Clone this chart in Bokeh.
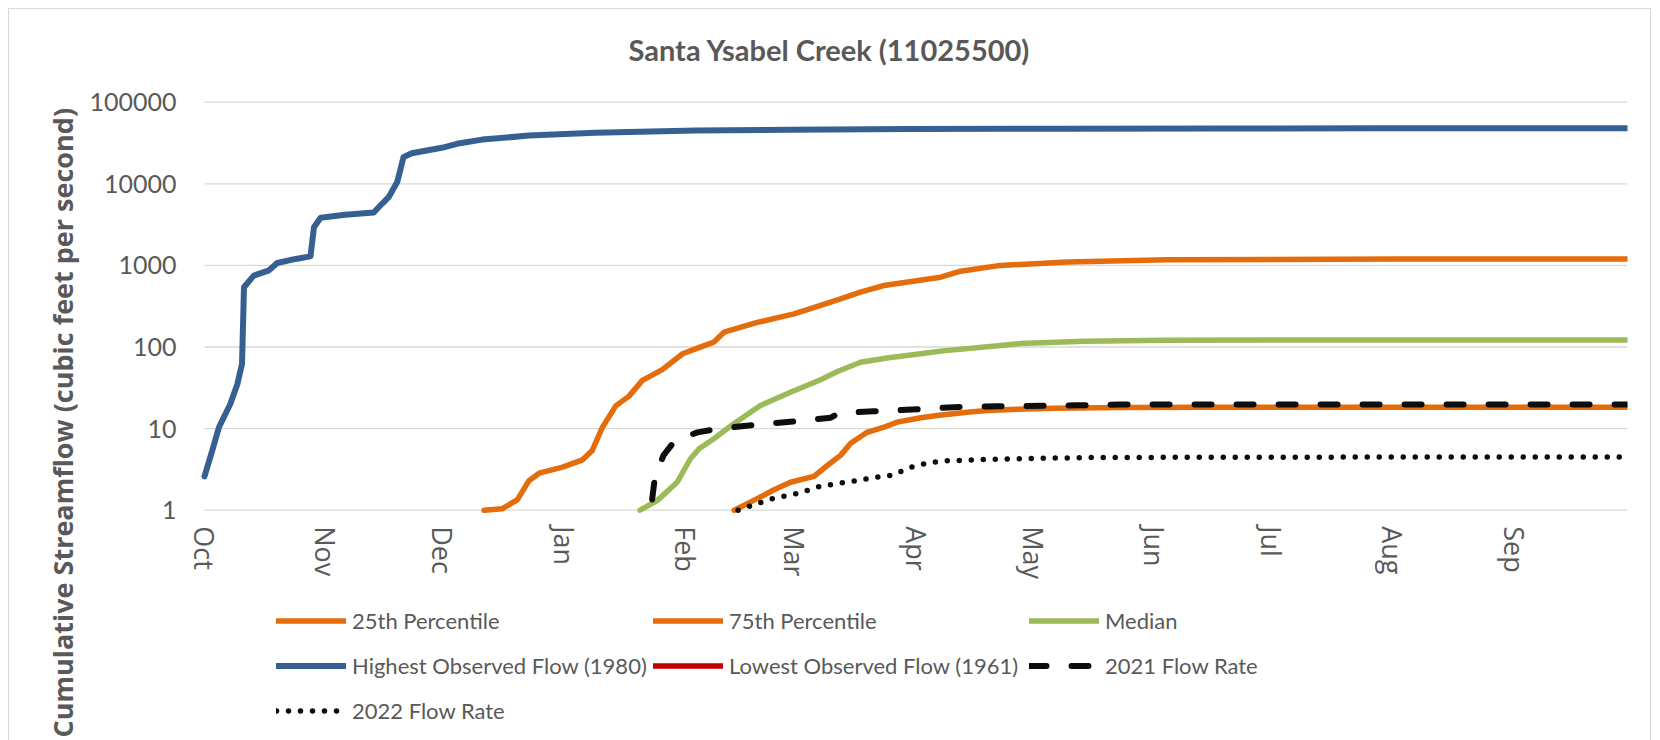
import math
from bokeh.plotting import figure
from bokeh.models import Range1d, FixedTicker, Legend, LegendItem, NumeralTickFormatter, Title, Label
from bokeh.core.properties import value
from bokeh.embed import file_html
from bokeh.resources import INLINE

# ---------------- data ----------------
month_names = ["Oct", "Nov", "Dec", "Jan", "Feb", "Mar", "Apr", "May", "Jun", "Jul", "Aug", "Sep"]
month_start_days = [0, 31, 61, 92, 123, 151, 182, 212, 243, 273, 304, 335]
y_ticks = [1, 10, 100, 1000, 10000, 100000]
day_first, day_last = 0, 364

p25_days = [135.5, 140.5, 145.7, 149.9, 155.9, 159.3, 162.7, 165.3, 169.5, 173.8, 177.2, 183.2,
            187.4, 195.1, 200.2, 207.9, 217.3, 234, 260, 364]
p25_vals = [1.0, 1.32, 1.78, 2.2, 2.6, 3.53, 4.7, 6.6, 9.0, 10.4, 12.0, 13.6,
            14.5, 15.9, 16.7, 17.3, 17.8, 18.2, 18.3, 18.3]

p75_days = [71.5, 76.1, 80, 83, 85.6, 91.6, 96.7, 99.2, 101.8, 105.2, 108.6, 112, 117.1, 122.3,
            125.6, 130.3, 132.9, 141.4, 150.8, 160.2, 167.8, 173.8, 188.3, 193.4, 203.6, 220.7,
            246.3, 306, 364]
p75_vals = [1.0, 1.04, 1.34, 2.3, 2.84, 3.37, 4.14, 5.4, 10.4, 19, 25, 39, 52.7, 82.6,
            95, 115, 152, 200, 255, 354, 470, 567, 717, 850, 1000, 1097,
            1170, 1195, 1200]

median_days = [111.4, 115.8, 120.9, 124.3, 126.5, 130.3, 135.4, 142.2, 149.9, 157.6, 161.9, 167.8,
               175, 183.2, 188.3, 203.6, 208.7, 225, 246, 300, 364]
median_vals = [1.0, 1.31, 2.2, 4.27, 5.65, 7.5, 11.5, 19.2, 27.9, 39.6, 50, 65,
               74, 82.6, 89, 104, 110, 118, 121, 122, 122]

highest_days = [0, 2, 3.7, 6.6, 8.4, 9.6, 10.1, 12.6, 16.5, 18.6, 23.3, 27.1, 28, 29.7, 36, 43.3,
                45.4, 47.1, 49.3, 50.9, 53, 60.7, 64.6, 71, 83, 100, 125.6, 150, 180, 220, 260,
                300, 364]
highest_vals = [2.6, 5.4, 10.4, 20, 35, 62, 540, 750, 870, 1070, 1200, 1290, 2930, 3830, 4180, 4450,
                5690, 6860, 10500, 21200, 23700, 27600, 30900, 34800, 39000, 42200, 45000, 46000,
                46800, 47300, 47600, 47800, 48000]

lowest_days = [0, 364]
lowest_vals = [0.0, 0.0]

f2021_days = [114.5, 115.2, 117.4, 120.3, 126.1, 131.2, 141.4, 151.6, 160.2, 162.3, 171.2, 184,
              191.7, 202.8, 223, 234, 364]
f2021_vals = [1.35, 2.5, 4.7, 7.1, 9.0, 9.9, 11.2, 12.3, 13.6, 15.5, 16.3, 17.4,
              18.3, 18.8, 19.3, 19.7, 19.8]

f2022_days = [136.5, 145.5, 151.6, 157.6, 167, 173, 176.4, 179, 182.2, 188.3, 200.2, 225.8, 260, 364]
f2022_vals = [1.0, 1.4, 1.6, 1.97, 2.31, 2.59, 2.7, 3.13, 3.55, 4.0, 4.2, 4.42, 4.46, 4.5]

title_text = "Santa Ysabel Creek (11025500)"
y_label_text = "Cumulative Streamflow (cubic feet per second)"

# ---------------- layout / styling ----------------
ORANGE = "#E46C0A"
GREEN = "#9BBB59"
BLUE = "#376092"
RED = "#C00000"
BLACK = "#0D0D0D"
TEXT = "#595959"
BORDER = "#D9D9D9"

W, H = 1660, 740
PLOT_LEFT = 204           # pixel column of day 0
FL, FR = 186, 33          # frame a bit wider than the plot area so the first month label fits
Y1_PX = 509.7             # pixel row of value 1
DEC_PX = 81.6             # pixels per decade
px_per_day = (W - FR - PLOT_LEFT) / (day_last - day_first)
x_lo = day_first - (PLOT_LEFT - FL) / px_per_day
y_lo = 10 ** (-(H - Y1_PX) / DEC_PX)
y_hi = 10 ** (Y1_PX / DEC_PX)
label_y = 10 ** (-16.0 / DEC_PX)   # month labels start 16px under the value-1 line

p = figure(width=W, height=H, x_range=Range1d(x_lo, day_last), y_range=Range1d(y_lo, y_hi),
           y_axis_type="log", output_backend="svg", toolbar_location=None,
           min_border_left=FL, min_border_right=FR, min_border_top=0, min_border_bottom=0)
p.outline_line_color = None
p.background_fill_color = None
p.border_fill_color = None
g = f"linear-gradient({BORDER},{BORDER})"
p.styles = {
    "background-color": "white",
    "background-image": f"{g}, {g}, {g}",
    "background-size": "1px 732px, 1643px 1px, 1px 732px",
    "background-position": "8px 8px, 8px 8px, 1650px 8px",
    "background-repeat": "no-repeat",
}

p.xaxis.visible = False
p.xgrid.grid_line_color = None
p.ygrid.grid_line_color = None
p.ygrid.minor_grid_line_color = None

ya = p.yaxis[0]
ya.ticker = FixedTicker(ticks=y_ticks)
ya.formatter = NumeralTickFormatter(format="0")
ya.axis_line_color = None
ya.major_tick_line_color = None
ya.minor_tick_line_color = None
ya.major_tick_out = 0
ya.major_label_standoff = 10
ya.major_label_text_font = "Lato"
ya.major_label_text_font_size = "25px"
ya.major_label_text_color = TEXT

# horizontal gridlines across the plot area at the y ticks
p.segment(x0=[day_first] * len(y_ticks), y0=y_ticks, x1=[day_last] * len(y_ticks), y1=y_ticks,
          line_color=BORDER, line_width=1.3)

# month labels (category axis under the plot)
p.text(x=month_start_days, y=[label_y] * len(month_start_days), text=month_names,
       angle=-math.pi / 2, text_align="left", text_baseline="middle",
       text_font=value("Open Sans"), text_font_size=value("27px"), text_color=TEXT)


def pos(v):
    return [x if x > 0 else float("nan") for x in v]


common = dict(line_join="round", line_cap="round")
r_p25 = p.line(p25_days, p25_vals, line_color=ORANGE, line_width=5.5, **common)
r_p75 = p.line(p75_days, p75_vals, line_color=ORANGE, line_width=5.5, **common)
r_med = p.line(median_days, median_vals, line_color=GREEN, line_width=5.5, **common)
r_hi = p.line(highest_days, highest_vals, line_color=BLUE, line_width=6, **common)
r_lo = p.line(lowest_days, pos(lowest_vals), line_color=RED, line_width=5.5, **common)
r_21 = p.line(f2021_days, f2021_vals, line_color=BLACK, line_width=6, line_dash="17 25", **common)
r_22 = p.line(f2022_days, f2022_vals, line_color=BLACK, line_width=5.5, line_dash="0 12", **common)

ROW_H, ROW_GAP = 29, 16
LEG_TOP = 606
legend_columns = [
    (276, [("25th Percentile", r_p25), ("Highest Observed Flow (1980)", r_hi), ("2022 Flow Rate", r_22)]),
    (653, [("75th Percentile", r_p75), ("Lowest Observed Flow (1961)", r_lo)]),
    (1029, [("Median", r_med), ("2021 Flow Rate", r_21)]),
]
for col_x, entries in legend_columns:
    n = len(entries)
    leg_h = n * ROW_H + (n - 1) * ROW_GAP
    legend = Legend(items=[LegendItem(label=lab, renderers=[r]) for lab, r in entries],
                    location=(col_x - FL, H - (LEG_TOP + leg_h)), orientation="vertical",
                    glyph_width=70, glyph_height=ROW_H, label_height=ROW_H, label_standoff=6,
                    spacing=ROW_GAP, padding=0, margin=0, border_line_color=None,
                    background_fill_alpha=0, label_text_font="Lato", label_text_font_size="22px",
                    label_text_color=TEXT)
    p.add_layout(legend, "center")

p.add_layout(Label(x=829 - FL, y=H - 49, x_units="screen", y_units="screen", text=title_text,
                   text_align="center", text_baseline="middle", text_font="Lato",
                   text_font_style="bold", text_font_size="29px", text_color=TEXT))
p.add_layout(Title(text=y_label_text, align="left", offset=3, vertical_align="middle",
                   text_font="Open Sans", text_font_style="bold", text_font_size="27px",
                   text_color=TEXT), "left")

open("out.html", "w").write(file_html(p, INLINE))
